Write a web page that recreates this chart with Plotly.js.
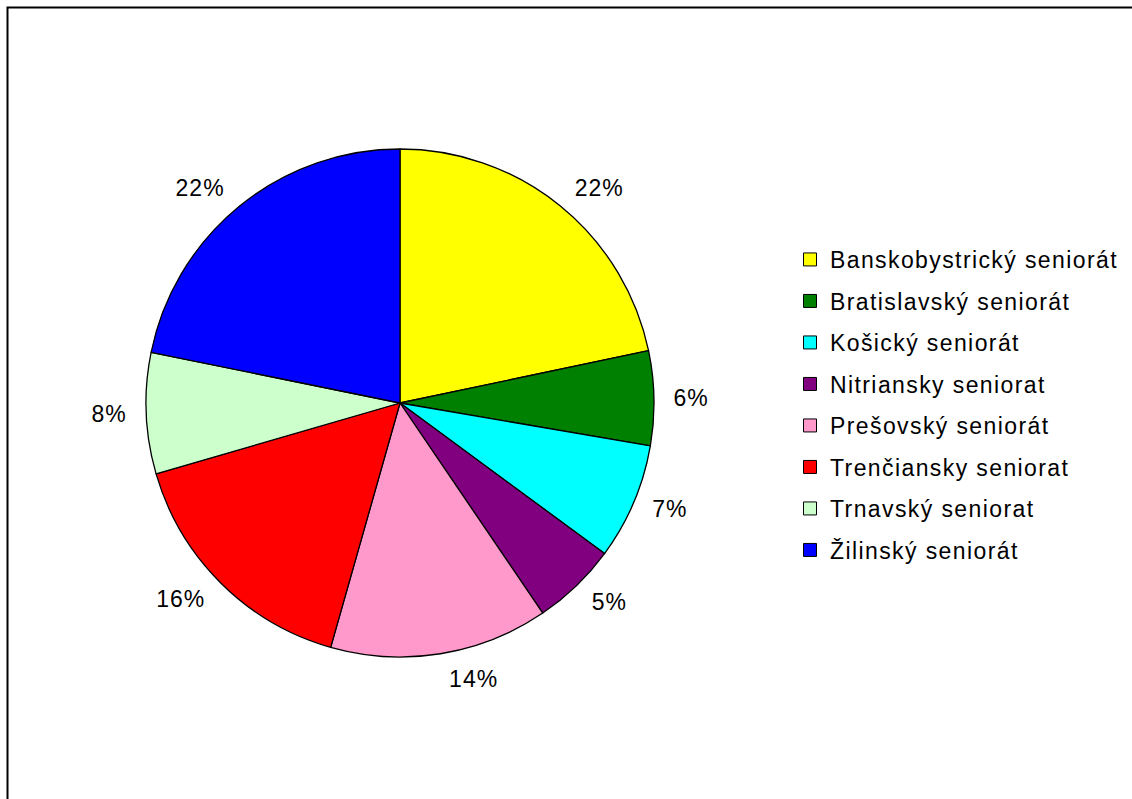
<!DOCTYPE html>
<html>
<head>
<meta charset="utf-8">
<script src="https://cdn.plot.ly/plotly-3.0.1.min.js"></script>
<style>
html,body{margin:0;padding:0;background:#fff;}
#chart{width:1132px;height:799px;}
.legendtext{letter-spacing:1.4px;}
.slicetext{letter-spacing:1px;}
</style>
</head>
<body>
<div id="chart"></div>
<script>
var categories = [
  "Banskobystrický seniorát",
  "Bratislavský seniorát",
  "Košický seniorát",
  "Nitriansky seniorat",
  "Prešovský seniorát",
  "Trenčiansky seniorat",
  "Trnavský seniorat",
  "Žilinský seniorát"
];
var shares = [21.7, 6.0, 7.4, 5.4, 13.9, 16.1, 7.7, 21.8];
var colors = ["#FFFF00", "#008000", "#00FFFF", "#800080", "#FF99CC", "#FF0000", "#CCFFCC", "#0000FF"];

var W = 1132, H = 799;
var font = {family: "Liberation Sans, Arial, sans-serif", size: 23, color: "#000"};

// pie geometry (pixels): centre and radius
var cx = 400, cy = 403, R = 254, labelR = 267;

function dom(r) {
  return {x: [(cx - r) / W, (cx + r) / W], y: [1 - (cy + r) / H, 1 - (cy - r) / H]};
}

var traces = [
  // transparent carrier pie for the percentage labels, slightly larger
  {
    type: "pie",
    labels: categories,
    values: shares,
    sort: false,
    direction: "clockwise",
    rotation: 0,
    marker: {colors: categories.map(function () { return "rgba(0,0,0,0)"; }), line: {width: 0}},
    textinfo: "percent",
    texttemplate: "%{percent:.0%}",
    textposition: "outside",
    outsidetextfont: font,
    showlegend: false,
    hoverinfo: "skip",
    domain: dom(labelR)
  },
  {
    type: "pie",
    labels: categories,
    values: shares,
    sort: false,
    direction: "clockwise",
    rotation: 0,
    marker: {colors: colors, line: {color: "#000", width: 1.3}},
    textinfo: "none",
    showlegend: false,
    hoverinfo: "label+percent",
    domain: dom(R)
  }
];

categories.forEach(function (c, i) {
  traces.push({
    type: "scatter",
    mode: "markers",
    x: [null], y: [null],
    name: c,
    legendgroup: "g" + i,
    marker: {symbol: "square", size: 13, color: colors[i], line: {color: "#000", width: 1}},
    hoverinfo: "skip"
  });
});

var layout = {
  width: W, height: H,
  margin: {l: 0, r: 0, t: 0, b: 0},
  paper_bgcolor: "#fff",
  plot_bgcolor: "rgba(0,0,0,0)",
  font: font,
  xaxis: {visible: false},
  yaxis: {visible: false},
  showlegend: true,
  legend: {
    x: 790 / W, y: 1 - 238 / H,
    xanchor: "left", yanchor: "top",
    font: font,
    tracegroupgap: 8.6,
    bgcolor: "rgba(0,0,0,0)"
  },
  shapes: [{
    type: "rect", xref: "paper", yref: "paper",
    x0: 7.5 / W, x1: 1.2, y0: -0.2, y1: 1 - 7.5 / H,
    line: {color: "#000", width: 2}
  }]
};

Plotly.newPlot("chart", traces, layout, {displayModeBar: false, staticPlot: true});
</script>
</body>
</html>
